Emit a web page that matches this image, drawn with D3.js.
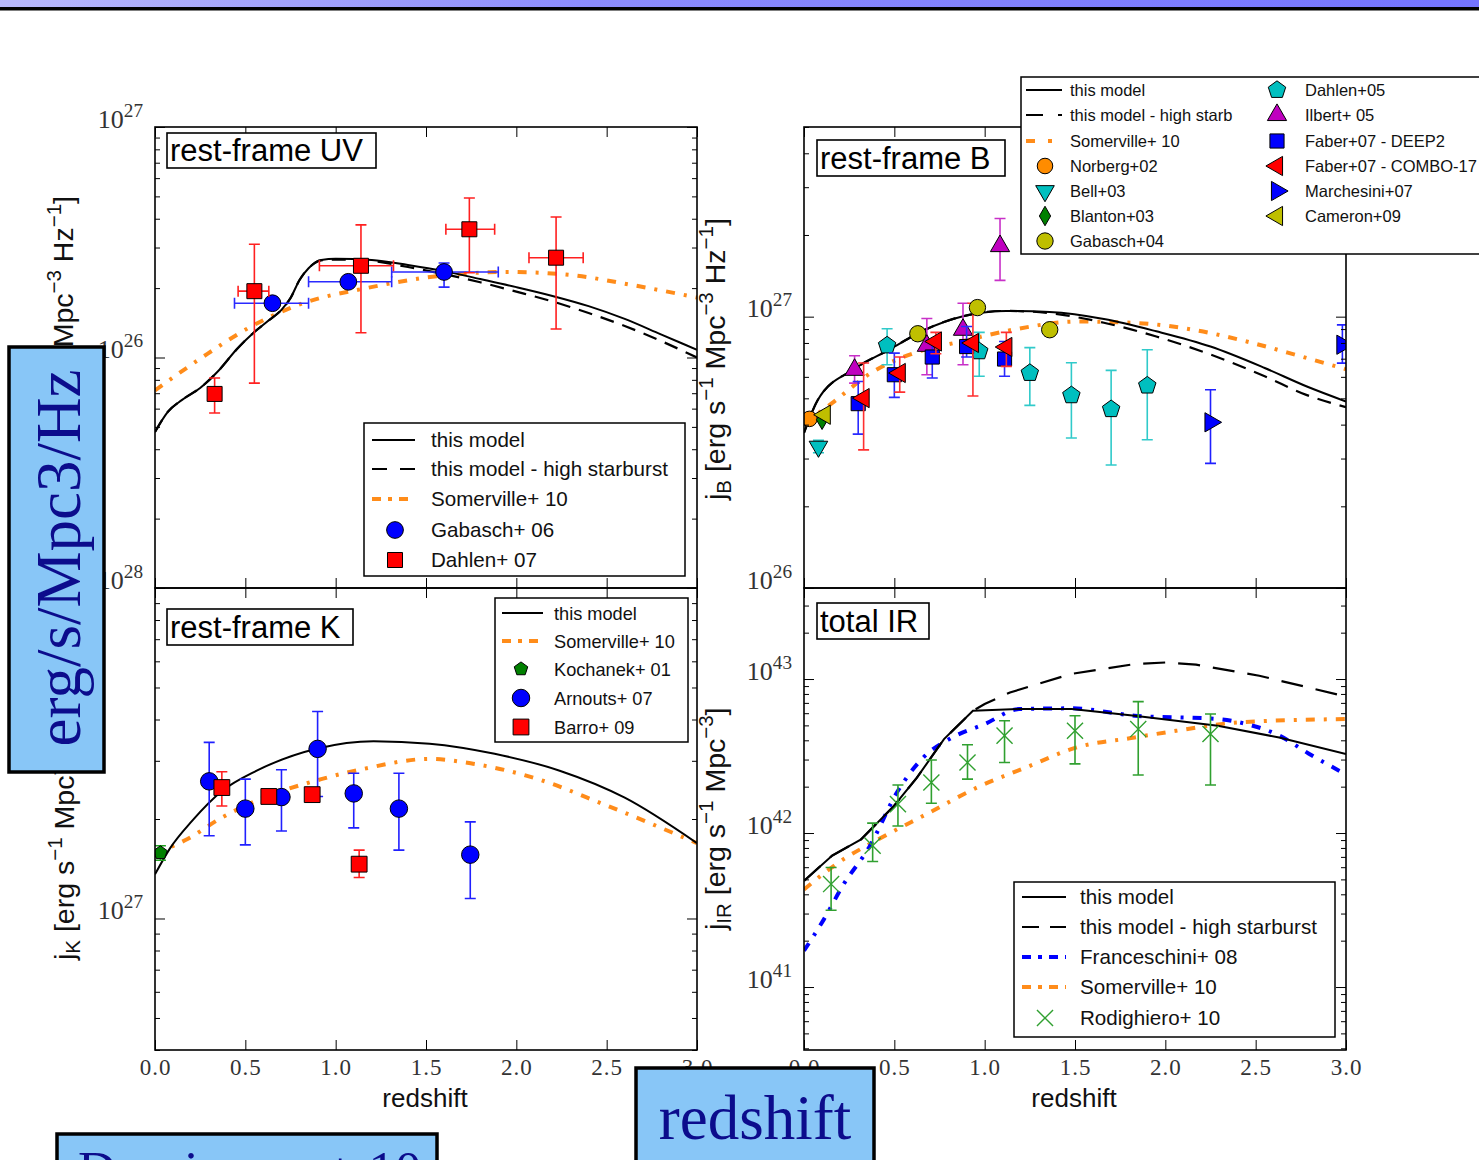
<!DOCTYPE html>
<html>
<head>
<meta charset="utf-8">
<script src="https://cdn.jsdelivr.net/npm/d3@7"></script>
<style>
  body { margin: 0; background: #fff; }
  svg { display: block; }
</style>
</head>
<body>
<script>
// ---------- rest-frame UV ----------
const uvModelZ = [0, 0.07, 0.15, 0.25, 0.35, 0.45, 0.55, 0.62, 0.7, 0.75, 0.8, 0.85, 0.92, 1.0, 1.2, 1.4, 1.6, 1.8, 2.0, 2.2, 2.4, 2.6, 2.8, 3.0];
const uvModel = [4.75e25, 5.8e25, 6.55e25, 7.38e25, 8.74e25, 1.08e26, 1.29e26, 1.43e26, 1.61e26, 1.81e26, 2.17e26, 2.44e26, 2.65e26, 2.68e26, 2.65e26, 2.52e26, 2.37e26, 2.19e26, 2.02e26, 1.85e26, 1.67e26, 1.47e26, 1.26e26, 1.08e26];
const uvStarb = [4.75e25, 5.8e25, 6.55e25, 7.38e25, 8.74e25, 1.08e26, 1.29e26, 1.43e26, 1.61e26, 1.81e26, 2.17e26, 2.44e26, 2.64e26, 2.66e26, 2.62e26, 2.47e26, 2.3e26, 2.12e26, 1.93e26, 1.75e26, 1.56e26, 1.37e26, 1.18e26, 1.0e26];
const uvSomZ = [0, 0.26, 0.53, 0.82, 1.17, 1.62, 1.96, 2.3, 2.63, 3.0];
const uvSom = [7.2e25, 1.0e26, 1.36e26, 1.72e26, 2.0e26, 2.28e26, 2.35e26, 2.28e26, 2.07e26, 1.82e26];
const uvGabZ = [0.65, 1.07, 1.6];
const uvGab = [1.72e26, 2.13e26, 2.35e26];
const uvGabLo = [1.62e26, 2.02e26, 2.02e26];
const uvGabHi = [1.83e26, 2.25e26, 2.57e26];
const uvGabZlo = [0.44, 0.85, 1.31];
const uvGabZhi = [0.85, 1.31, 1.9];
const uvDahZ = [0.33, 0.55, 1.14, 1.74, 2.22];
const uvDah = [6.95e25, 1.94e26, 2.5e26, 3.6e26, 2.71e26];
const uvDahLo = [5.74e25, 7.74e25, 1.28e26, 2.33e26, 1.33e26];
const uvDahHi = [8.15e25, 3.1e26, 3.76e26, 4.92e26, 4.07e26];
const uvDahZlo = [0.33, 0.46, 0.91, 1.61, 2.07];
const uvDahZhi = [0.33, 0.63, 1.32, 1.88, 2.37];

// ---------- rest-frame B ----------
const bModelZ = [0, 0.077, 0.27, 0.47, 0.67, 0.87, 1.12, 1.36, 1.66, 1.95, 2.25, 2.55, 2.78, 3.0];
const bModel = [3.73e26, 4.94e26, 6.37e26, 7.55e26, 8.95e26, 1.0e27, 1.05e27, 1.04e27, 9.8e26, 8.83e26, 7.76e26, 6.47e26, 5.54e26, 4.87e26];
const bStarb = [3.73e26, 4.94e26, 6.37e26, 7.55e26, 8.95e26, 1.0e27, 1.05e27, 1.03e27, 9.5e26, 8.45e26, 7.25e26, 6.03e26, 5.15e26, 4.64e26];
const bSomZ = [0, 0.155, 0.37, 0.61, 0.87, 1.16, 1.52, 1.85, 2.15, 2.45, 2.75, 3.0];
const bSom = [4.05e26, 4.8e26, 6.2e26, 7.35e26, 8.1e26, 8.96e26, 9.6e26, 9.47e26, 8.96e26, 8.1e26, 7.14e26, 6.4e26];
const bNorZ = [0.03], bNor = [4.2e26];
const bBellZ = [0.08], bBell = [3.32e26], bBellLo = [3.15e26], bBellHi = [3.5e26];
const bBlaZ = [0.1], bBla = [4.17e26];
const bGab04Z = [0.63, 0.96, 1.36];
const bGab04 = [8.65e26, 1.08e27, 8.95e26];
const bGab04Lo = [8.2e26, 1.03e27, 8.5e26];
const bGab04Hi = [9.1e26, 1.13e27, 9.4e26];
const bDahZ = [0.46, 0.97, 1.25, 1.48, 1.7, 1.9];
const bDah = [7.83e26, 7.45e26, 6.2e26, 5.13e26, 4.56e26, 5.57e26];
const bDahLo = [6.65e26, 6.03e26, 4.71e26, 3.57e26, 2.84e26, 3.52e26];
const bDahHi = [9.03e26, 8.75e26, 7.69e26, 6.76e26, 6.34e26, 7.55e26];
const bIlbZ = [0.28, 0.68, 0.88, 1.085];
const bIlb = [6.37e26, 7.81e26, 8.95e26, 1.82e27];
const bIlbLo = [5.69e26, 6.11e26, 6.65e26, 1.36e27];
const bIlbHi = [7.18e26, 9.84e26, 1.12e27, 2.3e27];
const bDeepZ = [0.3, 0.5, 0.71, 0.9, 1.11];
const bDeep = [4.78e26, 6.11e26, 7.1e26, 7.76e26, 6.98e26];
const bDeepLo = [3.69e26, 5.04e26, 5.94e26, 7.1e26, 6.03e26];
const bDeepHi = [5.77e26, 7.34e26, 8.22e26, 9.2e26, 8.1e26];
const bComboZ = [0.33, 0.53, 0.73, 0.935, 1.12];
const bCombo = [5.01e26, 6.2e26, 8.1e26, 8.0e26, 7.73e26];
const bComboLo = [3.23e26, 5.27e26, 7.3e26, 5.1e26, 6.56e26];
const bComboHi = [6.75e26, 7.1e26, 8.75e26, 1.12e27, 8.75e26];
const bMarZ = [2.25, 2.98];
const bMar = [4.08e26, 7.88e26];
const bMarLo = [2.88e26, 6.74e26];
const bMarHi = [5.38e26, 9.33e26];
const bCamZ = [0.115], bCam = [4.35e26];

// ---------- rest-frame K ----------
const kModelZ = [0, 0.083, 0.204, 0.371, 0.563, 0.9, 1.21, 1.52, 1.88, 2.24, 2.6, 3.0];
const kModel = [1.36e27, 1.63e27, 1.97e27, 2.43e27, 2.8e27, 3.27e27, 3.44e27, 3.38e27, 3.15e27, 2.8e27, 2.32e27, 1.69e27];
const kSomZ = [0, 0.18, 0.37, 0.56, 0.92, 1.16, 1.52, 1.76, 2.12, 2.48, 3.0];
const kSom = [1.57e27, 1.74e27, 2.02e27, 2.27e27, 2.64e27, 2.84e27, 3.04e27, 2.94e27, 2.64e27, 2.22e27, 1.69e27];
const kKocZ = [0.03], kKoc = [1.58e27], kKocLo = [1.5e27], kKocHi = [1.66e27];
const kArnZ = [0.3, 0.5, 0.7, 0.9, 1.1, 1.35, 1.745];
const kArn = [2.6e27, 2.15e27, 2.33e27, 3.26e27, 2.39e27, 2.15e27, 1.56e27];
const kArnLo = [1.78e27, 1.67e27, 1.84e27, 2.34e27, 1.88e27, 1.61e27, 1.15e27];
const kArnHi = [3.41e27, 2.64e27, 2.82e27, 4.23e27, 2.75e27, 2.75e27, 1.96e27];
const kBarZ = [0.37, 0.63, 0.87, 1.13];
const kBar = [2.49e27, 2.34e27, 2.37e27, 1.46e27];
const kBarLo = [2.19e27, 2.34e27, 2.37e27, 1.33e27];
const kBarHi = [2.78e27, 2.34e27, 2.37e27, 1.61e27];

// ---------- total IR ----------
const irModelZ = [0, 0.155, 0.316, 0.498, 0.625, 0.775, 0.935, 1.187, 1.483, 1.83, 2.29, 2.63, 3.0];
const irModel = [4.89e41, 7.12e41, 9.1e41, 1.5e42, 2.29e42, 4.07e42, 6.22e42, 6.38e42, 6.38e42, 5.78e42, 4.98e42, 4.17e42, 3.26e42];
const irStarbZ = [0, 0.155, 0.316, 0.498, 0.625, 0.775, 0.935, 1.0, 1.14, 1.48, 1.83, 2.0, 2.17, 2.52, 3.0];
const irStarb = [4.89e41, 7.12e41, 9.1e41, 1.5e42, 2.29e42, 4.07e42, 6.22e42, 6.88e42, 8.18e42, 1.08e43, 1.25e43, 1.28e43, 1.24e43, 1.05e43, 7.7e42];
const irFranZ = [0, 0.11, 0.22, 0.36, 0.52, 0.66, 0.82, 1.0, 1.19, 1.48, 1.83, 2.29, 2.45, 2.63, 2.79, 3.0];
const irFran = [1.72e41, 2.75e41, 4.66e41, 8.06e41, 1.88e42, 3.09e42, 4.17e42, 5.1e42, 6.38e42, 6.45e42, 5.78e42, 5.5e42, 5.1e42, 4.3e42, 3.3e42, 2.4e42];
const irSomZ = [0, 0.18, 0.43, 0.68, 0.96, 1.23, 1.51, 1.83, 2.06, 2.4, 3.0];
const irSom = [4.3e41, 6.3e41, 9.35e41, 1.33e42, 1.98e42, 2.67e42, 3.6e42, 4.17e42, 4.61e42, 5.22e42, 5.5e42];
const irRodZ = [0.15, 0.38, 0.52, 0.705, 0.905, 1.11, 1.5, 1.85, 2.25];
const irRod = [4.66e41, 8.26e41, 1.54e42, 2.13e42, 2.87e42, 4.29e42, 4.61e42, 4.73e42, 4.4e42];
const irRodLo = [3.15e41, 6.53e41, 1.11e42, 1.56e42, 2.24e42, 2.87e42, 2.81e42, 2.38e42, 2.05e42];
const irRodHi = [5.97e41, 1.16e42, 2.05e42, 2.98e42, 3.74e42, 5.36e42, 5.78e42, 7.13e42, 5.93e42];

const xTicks = [0, 0.5, 1.0, 1.5, 2.0, 2.5, 3.0];

const W = 1479, H = 1160;
const PW = 542;
const SANS = '"Liberation Sans", Arial, sans-serif';
const SERIF = '"Liberation Serif", "Times New Roman", serif';
const ORANGE = '#ff8c1a';

const svg = d3.select('body').append('svg').attr('width', W).attr('height', H);
const defs = svg.append('defs');

// slide header bar
const grad = defs.append('linearGradient').attr('id', 'bar');
grad.append('stop').attr('offset', '0%').attr('stop-color', '#b8b8fb');
grad.append('stop').attr('offset', '40%').attr('stop-color', '#8c8cfd');
grad.append('stop').attr('offset', '100%').attr('stop-color', '#7474ff');
svg.append('rect').attr('width', W).attr('height', 7.5).attr('fill', 'url(#bar)');
svg.append('rect').attr('y', 7).attr('width', W).attr('height', 3.5).attr('fill', '#000');

// line styles
const stModel = { color: '#000', width: 2 };
const stStarb = { color: '#000', width: 2.2, dash: '14,9' };
const stStarbIR = { color: '#000', width: 2.2, dash: '22,13' };
const stSom = { color: ORANGE, width: 4, dash: '9,9,3,9' };
const stFran = { color: '#0000ff', width: 4, dash: '9,9,3,9' };

// marker shapes
const symbolPentagon = {
  draw(ctx, size) {
    const r = Math.sqrt(size / 2.378);
    for (let k = 0; k < 5; k++) {
      const a = -Math.PI / 2 + k * 2 * Math.PI / 5;
      if (k) ctx.lineTo(r * Math.cos(a), r * Math.sin(a));
      else ctx.moveTo(r * Math.cos(a), r * Math.sin(a));
    }
    ctx.closePath();
  }
};
const SYM = {
  circle: [d3.symbolCircle, 0], square: [d3.symbolSquare, 0],
  triUp: [d3.symbolTriangle, 0], triDown: [d3.symbolTriangle, 180],
  triLeft: [d3.symbolTriangle, -90], triRight: [d3.symbolTriangle, 90],
  diamond: [d3.symbolDiamond, 0], pentagon: [symbolPentagon, 0], cross: [d3.symbolTimes, 0]
};

// point series
const sGab06 = { z: uvGabZ, v: uvGab, lo: uvGabLo, hi: uvGabHi, zlo: uvGabZlo, zhi: uvGabZhi, sym: 'circle', fill: '#0000ff', size: 220, err: '#2a2aff' };
const sDah07 = { z: uvDahZ, v: uvDah, lo: uvDahLo, hi: uvDahHi, zlo: uvDahZlo, zhi: uvDahZhi, sym: 'square', fill: '#ff0000', size: 225, err: '#ff2020' };

const sNor = { z: bNorZ, v: bNor, sym: 'circle', fill: '#ff8c00', size: 190 };
const sBell = { z: bBellZ, v: bBell, lo: bBellLo, hi: bBellHi, sym: 'triDown', fill: '#00bfbf', size: 150, err: '#22c4c4' };
const sBla = { z: bBlaZ, v: bBla, sym: 'diamond', fill: '#008000', size: 110 };
const sGab04 = { z: bGab04Z, v: bGab04, lo: bGab04Lo, hi: bGab04Hi, sym: 'circle', fill: '#bfbf00', size: 210, err: '#c8c800' };
const sDah05 = { z: bDahZ, v: bDah, lo: bDahLo, hi: bDahHi, sym: 'pentagon', fill: '#00bfbf', size: 200, err: '#30caca' };
const sIlb = { z: bIlbZ, v: bIlb, lo: bIlbLo, hi: bIlbHi, sym: 'triUp', fill: '#bf00bf', size: 160, err: '#c830c8' };
const sDeep = { z: bDeepZ, v: bDeep, lo: bDeepLo, hi: bDeepHi, sym: 'square', fill: '#0000ff', size: 200, err: '#2a2aff' };
const sCombo = { z: bComboZ, v: bCombo, lo: bComboLo, hi: bComboHi, sym: 'triLeft', fill: '#ff0000', size: 160, err: '#ff3030' };
const sMar = { z: bMarZ, v: bMar, lo: bMarLo, hi: bMarHi, sym: 'triRight', fill: '#0000ff', size: 160, err: '#2020ff' };
const sCam = { z: bCamZ, v: bCam, sym: 'triLeft', fill: '#bfbf00', size: 160 };

const sKoc = { z: kKocZ, v: kKoc, lo: kKocLo, hi: kKocHi, sym: 'pentagon', fill: '#008000', size: 120, err: '#20a020' };
const sArn = { z: kArnZ, v: kArn, lo: kArnLo, hi: kArnHi, sym: 'circle', fill: '#0000ff', size: 240, err: '#2020ff' };
const sBar = { z: kBarZ, v: kBar, lo: kBarLo, hi: kBarHi, sym: 'square', fill: '#ff0000', size: 250, err: '#ff2020' };

const sRod = { z: irRodZ, v: irRod, lo: irRodLo, hi: irRodHi, sym: 'cross', fill: '#30a030', size: 170, err: '#30a030' };

const CAP = 5.5;

function drawMarker(sel, s) {
  const [type, rot] = SYM[s.sym];
  const p = sel.attr('d', d3.symbol().type(type).size(s.size)())
    .attr('transform', function () { return d3.select(this).attr('transform') + ` rotate(${rot})`; });
  if (s.sym === 'cross') p.attr('fill', 'none').attr('stroke', s.fill).attr('stroke-width', 1.4);
  else p.attr('fill', s.fill).attr('stroke', '#000').attr('stroke-width', 1);
}

function richText(sel, parts, fs, supScale) {
  const sc = supScale || 0.7;
  let shift = 0;
  parts.forEach(([t, kind]) => {
    const target = kind === 'sup' ? -0.42 * fs : kind === 'sub' ? 0.22 * fs : 0;
    sel.append('tspan').attr('dy', target - shift).attr('font-size', kind ? fs * sc : fs).text(t);
    shift = target;
  });
}

function tickAxis(g, axis, tx, ty) {
  const a = g.append('g').attr('transform', `translate(${tx},${ty})`).call(axis);
  a.select('.domain').remove();
  a.selectAll('.tick line').attr('stroke', '#000').attr('stroke-width', 1);
  return a;
}

function panel(p) {
  const g = svg.append('g').attr('transform', `translate(${p.left},${p.top})`);
  const x = d3.scaleLinear().domain([0, 3]).range([0, PW]);
  const y = d3.scaleLog().domain(p.yDomain).range([p.height, 0]);

  defs.append('clipPath').attr('id', 'clip-' + p.id)
    .append('rect').attr('width', PW).attr('height', p.height);
  const plot = g.append('g').attr('clip-path', `url(#clip-${p.id})`);

  p.lines.forEach(l => {
    plot.append('path').datum(d3.zip(l.z, l.v))
      .attr('d', d3.line().x(d => x(d[0])).y(d => y(d[1])).curve(l.curve || d3.curveMonotoneX))
      .attr('fill', 'none').attr('stroke', l.st.color).attr('stroke-width', l.st.width)
      .attr('stroke-dasharray', l.st.dash || null);
  });

  p.points.forEach(s => {
    const eg = plot.append('g').attr('stroke', s.err || s.fill).attr('stroke-width', 1.6).attr('fill', 'none');
    s.z.forEach((z, i) => {
      const cx = x(z), cy = y(s.v[i]);
      if (s.lo && s.lo[i] !== s.hi[i]) {
        const y1 = y(s.lo[i]), y2 = y(s.hi[i]);
        eg.append('path').attr('d', `M${cx},${y1}V${y2}M${cx - CAP},${y1}H${cx + CAP}M${cx - CAP},${y2}H${cx + CAP}`);
      }
      if (s.zlo && s.zlo[i] !== s.zhi[i]) {
        const x1 = x(s.zlo[i]), x2 = x(s.zhi[i]);
        eg.append('path').attr('d', `M${x1},${cy}H${x2}M${x1},${cy - CAP}V${cy + CAP}M${x2},${cy - CAP}V${cy + CAP}`);
      }
    });
    plot.append('g').selectAll('path').data(d3.range(s.z.length)).join('path')
      .attr('transform', i => `translate(${x(s.z[i])},${y(s.v[i])})`)
      .call(drawMarker, s);
  });

  // ticks on all four sides, pointing inwards
  const all = y.ticks();
  const isMajor = v => Math.abs(Math.log10(v) - Math.round(Math.log10(v))) < 1e-6;
  const majors = all.filter(isMajor), minors = all.filter(v => !isMajor(v));
  tickAxis(g, d3.axisLeft(y).tickValues(minors).tickSize(-5).tickFormat(''), 0, 0);
  tickAxis(g, d3.axisRight(y).tickValues(minors).tickSize(-5).tickFormat(''), PW, 0);
  tickAxis(g, d3.axisRight(y).tickValues(majors).tickSize(-10).tickFormat(''), PW, 0);
  const ya = tickAxis(g, d3.axisLeft(y).tickValues(majors).tickSize(-10).tickPadding(12).tickFormat(''), 0, 0);
  ya.attr('font-family', SERIF).attr('font-size', 26);
  ya.selectAll('.tick').each(function (d) {
    const e = Math.round(Math.log10(d));
    if (!p.yLabels.includes(e)) return;
    const t = d3.select(this).select('text').attr('fill', '#333').attr('dy', '0.34em');
    richText(t, [['10', 0], [String(e), 'sup']], 26, 0.74);
  });
  tickAxis(g, d3.axisTop(x).tickValues(xTicks).tickSize(-10).tickFormat(''), 0, 0);
  const xa = tickAxis(g, d3.axisBottom(x).tickValues(xTicks).tickSize(-10).tickPadding(9)
    .tickFormat(p.xLabels ? d3.format('.1f') : ''), 0, p.height);
  xa.attr('font-family', SERIF).attr('font-size', 23);
  xa.selectAll('text').attr('fill', '#333').attr('letter-spacing', 1);

  g.append('rect').attr('width', PW).attr('height', p.height)
    .attr('fill', 'none').attr('stroke', '#000').attr('stroke-width', 1.6);
}

function titleBox(x0, y0, w, h, label) {
  svg.append('rect').attr('x', x0).attr('y', y0).attr('width', w).attr('height', h)
    .attr('fill', '#fff').attr('stroke', '#000').attr('stroke-width', 1.6);
  svg.append('text').attr('x', x0 + 3).attr('y', y0 + h - 7).attr('font-family', SANS)
    .attr('font-size', 31).attr('fill', '#000').text(label);
}

function legend(box, cols, fs) {
  svg.append('rect').attr('x', box.x).attr('y', box.y).attr('width', box.w).attr('height', box.h)
    .attr('fill', '#fff').attr('stroke', '#000').attr('stroke-width', 1.5);
  cols.forEach(c => {
    c.items.forEach((it, i) => {
      const yy = c.ys[i];
      if (it.st) {
        svg.append('line').attr('x1', c.sx1).attr('x2', c.sx2).attr('y1', yy).attr('y2', yy)
          .attr('stroke', it.st.color).attr('stroke-width', it.st.width)
          .attr('stroke-dasharray', it.dash || it.st.dash || null);
      } else {
        svg.append('path').attr('transform', `translate(${c.mx},${yy})`).call(drawMarker, it.s);
      }
      svg.append('text').attr('x', c.tx).attr('y', yy).attr('dy', '0.36em')
        .attr('font-family', SANS).attr('font-size', fs).attr('fill', '#111').text(it.label);
    });
  });
}

function yLabel(x0, y0, anchor, parts) {
  const t = svg.append('text').attr('transform', `translate(${x0},${y0}) rotate(-90)`)
    .attr('text-anchor', anchor).attr('font-family', SANS).attr('fill', '#111');
  richText(t, parts, 28.5, 0.72);
}

// ---- panels ----
panel({ id: 'uv', left: 155, top: 127, height: 461, yDomain: [1e25, 1e27], yLabels: [26, 27], xLabels: false,
  lines: [
    { z: uvSomZ, v: uvSom, st: stSom },
    { z: uvModelZ, v: uvStarb, st: stStarb },
    { z: uvModelZ, v: uvModel, st: stModel }
  ],
  points: [sGab06, sDah07] });

panel({ id: 'b', left: 804, top: 127, height: 461, yDomain: [1e26, 5e27], yLabels: [26, 27], xLabels: false,
  lines: [
    { z: bSomZ, v: bSom, st: stSom },
    { z: bModelZ, v: bStarb, st: stStarb },
    { z: bModelZ, v: bModel, st: stModel }
  ],
  points: [sNor, sBell, sBla, sDah05, sIlb, sDeep, sCombo, sMar, sGab04, sCam] });

panel({ id: 'k', left: 155, top: 588, height: 462, yDomain: [4e26, 1e28], yLabels: [27, 28], xLabels: true,
  lines: [
    { z: kSomZ, v: kSom, st: stSom },
    { z: kModelZ, v: kModel, st: stModel }
  ],
  points: [sKoc, sArn, sBar] });

panel({ id: 'ir', left: 804, top: 588, height: 462, yDomain: [3.9e40, 3.9e43], yLabels: [41, 42, 43], xLabels: true,
  lines: [
    { z: irSomZ, v: irSom, st: stSom },
    { z: irFranZ, v: irFran, st: stFran },
    { z: irStarbZ, v: irStarb, st: stStarbIR, curve: d3.curveLinear },
    { z: irModelZ, v: irModel, st: stModel, curve: d3.curveLinear }
  ],
  points: [sRod] });

// ---- panel titles ----
titleBox(167, 133, 209, 35, 'rest-frame UV');
titleBox(817, 140, 188, 36, 'rest-frame B');
titleBox(167, 609, 186, 36, 'rest-frame K');
titleBox(817, 603, 112, 36, 'total IR');

// ---- legends ----
legend({ x: 364, y: 423, w: 321, h: 153 }, [{
  sx1: 372, sx2: 415, mx: 395, tx: 431, ys: [440, 469, 499, 530, 560],
  items: [
    { st: stModel, label: 'this model' },
    { st: stStarb, dash: '15,13', label: 'this model - high starburst' },
    { st: stSom, dash: '9,7,4,7', label: 'Somerville+ 10' },
    { s: sGab06, label: 'Gabasch+ 06' },
    { s: sDah07, label: 'Dahlen+ 07' }
  ] }], 20.6);

legend({ x: 1021, y: 77, w: 480, h: 177 }, [{
  sx1: 1026, sx2: 1062, mx: 1045, tx: 1070, ys: [90, 115, 141, 166, 191, 216, 241],
  items: [
    { st: stModel, label: 'this model' },
    { st: stStarb, dash: '17,15', label: 'this model - high starb' },
    { st: stSom, dash: '9,13,4,20', label: 'Somerville+ 10' },
    { s: sNor, label: 'Norberg+02' },
    { s: sBell, label: 'Bell+03' },
    { s: sBla, label: 'Blanton+03' },
    { s: sGab04, label: 'Gabasch+04' }
  ] }, {
  sx1: 1277, sx2: 1277, mx: 1277, tx: 1305, ys: [90, 115, 141, 166, 191, 216],
  items: [
    { s: sDah05, label: 'Dahlen+05' },
    { s: sIlb, label: 'Ilbert+ 05' },
    { s: sDeep, label: 'Faber+07 - DEEP2' },
    { s: sCombo, label: 'Faber+07 - COMBO-17' },
    { s: sMar, label: 'Marchesini+07' },
    { s: sCam, label: 'Cameron+09' }
  ] }], 16.5);

legend({ x: 495, y: 598, w: 193, h: 144 }, [{
  sx1: 502, sx2: 543, mx: 521, tx: 554, ys: [613, 641, 669, 698, 727],
  items: [
    { st: stModel, label: 'this model' },
    { st: stSom, dash: '9,7,4,7', label: 'Somerville+ 10' },
    { s: sKoc, label: 'Kochanek+ 01' },
    { s: sArn, label: 'Arnouts+ 07' },
    { s: sBar, label: 'Barro+ 09' }
  ] }], 18.2);

legend({ x: 1014, y: 882, w: 321, h: 155 }, [{
  sx1: 1022, sx2: 1066, mx: 1045, tx: 1080, ys: [897, 927, 957, 987, 1018],
  items: [
    { st: stModel, label: 'this model' },
    { st: stStarb, dash: '17,11', label: 'this model - high starburst' },
    { st: stFran, dash: '9,7,4,7', label: 'Franceschini+ 08' },
    { st: stSom, dash: '9,7,4,7', label: 'Somerville+ 10' },
    { s: sRod, label: 'Rodighiero+ 10' }
  ] }], 20.6);

// ---- axis titles ----
const supM1 = ['\u22121', 'sup'];
yLabel(73, 196, 'end', [['j', 0], ['UV', 'sub'], [' [erg s', 0], supM1, [' Mpc', 0], ['\u22123', 'sup'], [' Hz', 0], supM1, [']', 0]]);
yLabel(725, 500, 'start', [['j', 0], ['B', 'sub'], [' [erg s', 0], supM1, [' Mpc', 0], ['\u22123', 'sup'], [' Hz', 0], supM1, [']', 0]]);
yLabel(74, 960, 'start', [['j', 0], ['K', 'sub'], [' [erg s', 0], supM1, [' Mpc', 0], ['\u22123', 'sup'], [']', 0]]);
yLabel(725, 930, 'start', [['j', 0], ['IR', 'sub'], [' [erg s', 0], supM1, [' Mpc', 0], ['\u22123', 'sup'], [']', 0]]);

svg.append('text').attr('x', 425).attr('y', 1107).attr('text-anchor', 'middle')
  .attr('font-family', SANS).attr('font-size', 26).attr('fill', '#111').text('redshift');
svg.append('text').attr('x', 1074).attr('y', 1107).attr('text-anchor', 'middle')
  .attr('font-family', SANS).attr('font-size', 26).attr('fill', '#111').text('redshift');

// ---- slide call-out boxes ----
function callout(x0, y0, w, h) {
  svg.append('rect').attr('x', x0).attr('y', y0).attr('width', w).attr('height', h)
    .attr('fill', '#88c6f7').attr('stroke', '#000').attr('stroke-width', 3.5);
}
callout(9, 347, 95, 425);
svg.append('text').attr('transform', 'translate(80,558) rotate(-90)').attr('text-anchor', 'middle')
  .attr('font-family', SERIF).attr('font-size', 63).attr('fill', '#0c0c8c').text('erg/s/Mpc3/Hz');
callout(636, 1068, 238, 110);
svg.append('text').attr('x', 755).attr('y', 1139).attr('text-anchor', 'middle')
  .attr('font-family', SERIF).attr('font-size', 63).attr('fill', '#0c0c8c').text('redshift');
callout(57, 1134, 380, 60);
svg.append('text').attr('x', 78).attr('y', 1188)
  .attr('font-family', SERIF).attr('font-size', 53).attr('fill', '#0c0c8c').text('Dominguez+ 10');
</script>
</body>
</html>
